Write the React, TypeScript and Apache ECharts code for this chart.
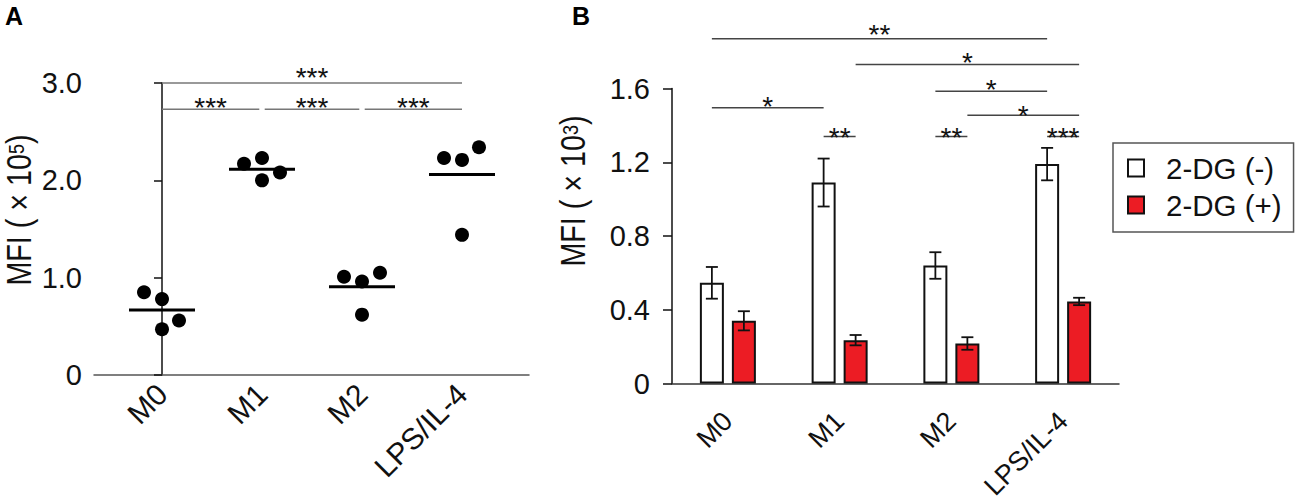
import React, { useEffect, useRef } from 'react';
import * as echarts from 'echarts';

// ---------- data ----------
const categories = ['M0', 'M1', 'M2', 'LPS/IL-4'];

// Panel A: individual MFI values (x10^5), horizontal jitter (category units) and group means
const aTicks = [0, 1, 2, 3];
const aPoints = [
  [0.85, 0.78, 0.47, 0.56],
  [2.17, 2.23, 2.08, 2.0],
  [1.01, 0.96, 1.05, 0.62],
  [2.23, 2.21, 2.34, 1.44],
];
const aJitter = [
  [-0.18, 0, 0, 0.17],
  [-0.18, 0, 0.18, 0],
  [-0.18, 0, 0.18, 0],
  [-0.18, 0, 0.17, 0],
];
const aMeans = [0.667, 2.115, 0.907, 2.06];
// [fromCategory, toCategory, bracket y, label y, label]
const aBrackets: [number, number, number, number, string][] = [
  [0, 3, 3.0, 3.12, '***'],
  [0, 1, 2.73, 2.81, '***'],
  [1, 2, 2.73, 2.81, '***'],
  [2, 3, 2.73, 2.81, '***'],
];

// Panel B: MFI (x10^3) mean ± error
const bSeriesNames = ['2-DG (-)', '2-DG (+)'];
const bTicks = [0, 0.4, 0.8, 1.2, 1.6];
const bWithout = [0.546, 1.09, 0.64, 1.19];
const bWithoutErr = [0.086, 0.13, 0.072, 0.088];
const bWith = [0.34, 0.235, 0.217, 0.445];
const bWithErr = [0.052, 0.028, 0.034, 0.02];
// [fromCategory, fromSeries, toCategory, toSeries, bracket y, label y, label]
const bBrackets: [number, number, number, number, number, number, string][] = [
  [0, 0, 3, 0, 1.87, 1.93, '**'],
  [1, 1, 3, 1, 1.73, 1.775, '*'],
  [2, 0, 3, 0, 1.585, 1.63, '*'],
  [2, 1, 3, 1, 1.455, 1.49, '*'],
  [0, 0, 1, 0, 1.495, 1.535, '*'],
  [1, 0, 1, 1, 1.34, 1.37, '**'],
  [2, 0, 2, 1, 1.34, 1.37, '**'],
  [3, 0, 3, 1, 1.34, 1.37, '***'],
];

// ---------- styles ----------
const FONT = '"Liberation Sans", Arial, Helvetica, sans-serif';
const TEXT = '#111';
const RED = '#ec1c24';
const BAR_W = 24;
const BAR_GAP = 8;
const BAR_OFFSET = (BAR_W + BAR_GAP) / 2;
const MEAN_HALF = 0.33;
const SEG_INSET = 2.7;
const STAR_SIZE = 28;
const STAR_SHIFT = STAR_SIZE * 0.23; // asterisk glyph sits above the text middle

export default function App() {
  const ref = useRef<HTMLDivElement>(null);

  useEffect(() => {
    if (!ref.current) return;
    const chart = echarts.init(ref.current, undefined, { renderer: 'svg' });

    const scatterData: number[][] = [];
    aPoints.forEach((vals, ci) => {
      vals.forEach((v, k) => scatterData.push([ci + aJitter[ci][k], v]));
    });

    const starText = (x: number, y: number, text: string) => ({
      type: 'text',
      x,
      y: y + STAR_SHIFT,
      style: {
        text,
        fill: TEXT,
        fontSize: STAR_SIZE,
        fontFamily: FONT,
        lineHeight: 14,
        textAlign: 'center',
        textVerticalAlign: 'middle',
      },
    });

    const yTitle = (x: number, y: number, exp: string) => ({
      type: 'text',
      x,
      y,
      rotation: Math.PI / 2,
      scaleX: 0.82,
      scaleY: 1,
      style: {
        text: `MFI ( × 10{sup|${exp}})`,
        fontSize: 35,
        fontFamily: FONT,
        fill: TEXT,
        lineHeight: 28,
        textAlign: 'center',
        textVerticalAlign: 'middle',
        rich: { sup: { fontSize: 22, fontFamily: FONT, fill: TEXT, verticalAlign: 'top', lineHeight: 20 } },
      },
    });

    const option: any = {
      animation: false,
      backgroundColor: '#fff',
      textStyle: { fontFamily: FONT },
      grid: [
        { left: 94, top: 83, width: 435, height: 292, outerBoundsMode: 'none', containLabel: false },
        { left: 672, top: 88.5, width: 447, height: 295, outerBoundsMode: 'none', containLabel: false },
      ],
      xAxis: [
        {
          type: 'value',
          gridIndex: 0,
          min: -0.68,
          max: 3.67,
          splitLine: { show: false },
          axisLine: { show: true, onZero: false, lineStyle: { color: '#555', width: 1.5 } },
          axisTick: { show: false },
          axisLabel: {
            customValues: [0, 1, 2, 3],
            formatter: (v: number) => categories[Math.round(v)] ?? '',
            rotate: 45,
            margin: 14,
            fontSize: 30,
            color: TEXT,
            fontFamily: FONT,
          },
        },
        {
          type: 'category',
          gridIndex: 1,
          data: categories,
          axisLine: { show: true, lineStyle: { color: '#333', width: 1.5 } },
          axisTick: { show: false },
          axisLabel: { rotate: 45, margin: 33, fontSize: 27, color: TEXT, fontFamily: FONT, interval: 0 },
        },
      ],
      yAxis: [
        {
          type: 'value',
          gridIndex: 0,
          min: aTicks[0],
          max: aTicks[aTicks.length - 1],
          interval: 1,
          splitLine: { show: false },
          axisLine: { show: true, lineStyle: { color: '#111', width: 1.5 } },
          axisTick: { show: true, length: 8, lineStyle: { color: '#111', width: 1.5 } },
          axisLabel: {
            fontSize: 29,
            color: TEXT,
            margin: 12,
            fontFamily: FONT,
            formatter: (v: number) => (v === 0 ? '0' : v.toFixed(1)),
          },
        },
        {
          type: 'value',
          gridIndex: 1,
          min: bTicks[0],
          max: bTicks[bTicks.length - 1],
          interval: 0.4,
          splitLine: { show: false },
          axisLine: { show: true, lineStyle: { color: '#111', width: 1.5 } },
          axisTick: { show: true, length: 9, lineStyle: { color: '#111', width: 1.5 } },
          axisLabel: {
            fontSize: 29,
            color: TEXT,
            margin: 22,
            fontFamily: FONT,
            formatter: (v: number) => (v === 0 ? '0' : v.toFixed(1)),
          },
        },
      ],
      legend: {
        orient: 'vertical',
        left: 1113,
        top: 143,
        data: bSeriesNames,
        icon: 'rect',
        itemWidth: 16,
        itemHeight: 17,
        itemGap: 5,
        padding: [9, 12, 11, 14],
        borderColor: '#555',
        borderWidth: 1.5,
        textStyle: { fontSize: 29.5, color: TEXT, fontFamily: FONT, lineHeight: 32, padding: [0, 0, 0, 17] },
      },
      series: [
        {
          type: 'scatter',
          xAxisIndex: 0,
          yAxisIndex: 0,
          symbol: 'circle',
          symbolSize: 14,
          itemStyle: { color: '#000', opacity: 1 },
          data: scatterData,
          z: 3,
        },
        {
          type: 'custom',
          xAxisIndex: 0,
          yAxisIndex: 0,
          clip: false,
          data: aMeans.map((m, i) => [i, m]),
          renderItem: (params: any, api: any) => {
            const c = api.value(0);
            const m = api.value(1);
            const p1 = api.coord([c - MEAN_HALF, m]);
            const p2 = api.coord([c + MEAN_HALF, m]);
            return {
              type: 'line',
              shape: { x1: p1[0], y1: p1[1], x2: p2[0], y2: p2[1] },
              style: { stroke: '#000', lineWidth: 3 },
            };
          },
          z: 4,
        },
        {
          type: 'custom',
          xAxisIndex: 0,
          yAxisIndex: 0,
          clip: false,
          data: aBrackets.map((b) => [b[0], b[2], b[1]]),
          renderItem: (params: any, api: any) => {
            const b = aBrackets[params.dataIndex];
            const p1 = api.coord([b[0], b[2]]);
            const p2 = api.coord([b[1], b[2]]);
            const ly = api.coord([b[0], b[3]])[1];
            const x1 = p1[0] + (b[0] === 0 ? 0 : SEG_INSET);
            const x2 = p2[0] - (b[1] === categories.length - 1 ? 0 : SEG_INSET);
            return {
              type: 'group',
              children: [
                {
                  type: 'line',
                  shape: { x1, y1: p1[1], x2, y2: p1[1] },
                  style: { stroke: '#777', lineWidth: 1.5 },
                },
                starText((x1 + x2) / 2, ly, b[4]),
              ],
            };
          },
        },
        {
          type: 'bar',
          name: bSeriesNames[0],
          xAxisIndex: 1,
          yAxisIndex: 1,
          data: bWithout,
          barWidth: BAR_W,
          barGap: `${(BAR_GAP / BAR_W) * 100}%`,
          itemStyle: { color: '#fff', borderColor: '#111', borderWidth: 2 },
        },
        {
          type: 'bar',
          name: bSeriesNames[1],
          xAxisIndex: 1,
          yAxisIndex: 1,
          data: bWith,
          barWidth: BAR_W,
          barGap: `${(BAR_GAP / BAR_W) * 100}%`,
          itemStyle: { color: RED, borderColor: '#111', borderWidth: 2 },
        },
        {
          type: 'custom',
          xAxisIndex: 1,
          yAxisIndex: 1,
          clip: false,
          z: 5,
          data: [
            ...bWithout.map((v, i) => [i, v, bWithoutErr[i], -1]),
            ...bWith.map((v, i) => [i, v, bWithErr[i], 1]),
          ],
          renderItem: (params: any, api: any) => {
            const c = api.value(0);
            const v = api.value(1);
            const e = api.value(2);
            const side = api.value(3);
            const top = api.coord([c, v + e]);
            const bot = api.coord([c, v - e]);
            const x = top[0] + side * BAR_OFFSET;
            const cap = 6;
            const st = { stroke: '#111', lineWidth: 1.8 };
            return {
              type: 'group',
              children: [
                { type: 'line', shape: { x1: x, y1: top[1], x2: x, y2: bot[1] }, style: st },
                { type: 'line', shape: { x1: x - cap, y1: top[1], x2: x + cap, y2: top[1] }, style: st },
                { type: 'line', shape: { x1: x - cap, y1: bot[1], x2: x + cap, y2: bot[1] }, style: st },
              ],
            };
          },
        },
        {
          type: 'custom',
          xAxisIndex: 1,
          yAxisIndex: 1,
          clip: false,
          data: bBrackets.map((b) => [b[0], b[4], b[2]]),
          renderItem: (params: any, api: any) => {
            const b = bBrackets[params.dataIndex];
            const p1 = api.coord([b[0], b[4]]);
            const p2 = api.coord([b[2], b[4]]);
            const ly = api.coord([b[0], b[5]])[1];
            const x1 = p1[0] + (b[1] === 0 ? -BAR_OFFSET : BAR_OFFSET);
            const x2 = p2[0] + (b[3] === 0 ? -BAR_OFFSET : BAR_OFFSET);
            return {
              type: 'group',
              children: [
                {
                  type: 'line',
                  shape: { x1, y1: p1[1], x2, y2: p1[1] },
                  style: { stroke: '#444', lineWidth: 1.5 },
                },
                starText((x1 + x2) / 2, ly, b[6]),
              ],
            };
          },
        },
      ],
      graphic: [
        {
          type: 'text',
          left: 5,
          top: 3,
          style: { text: 'A', fontSize: 25, fontWeight: 'bold', fontFamily: FONT, fill: '#000' },
        },
        {
          type: 'text',
          left: 572,
          top: 3,
          style: { text: 'B', fontSize: 25, fontWeight: 'bold', fontFamily: FONT, fill: '#000' },
        },
        yTitle(19, 210, '5'),
        yTitle(573, 191, '3'),
      ],
    };

    chart.setOption(option);
    return () => chart.dispose();
  }, []);

  return (
    <div
      ref={ref}
      style={{ position: 'absolute', left: 0, top: 0, width: 1295, height: 502, background: '#fff' }}
    />
  );
}
